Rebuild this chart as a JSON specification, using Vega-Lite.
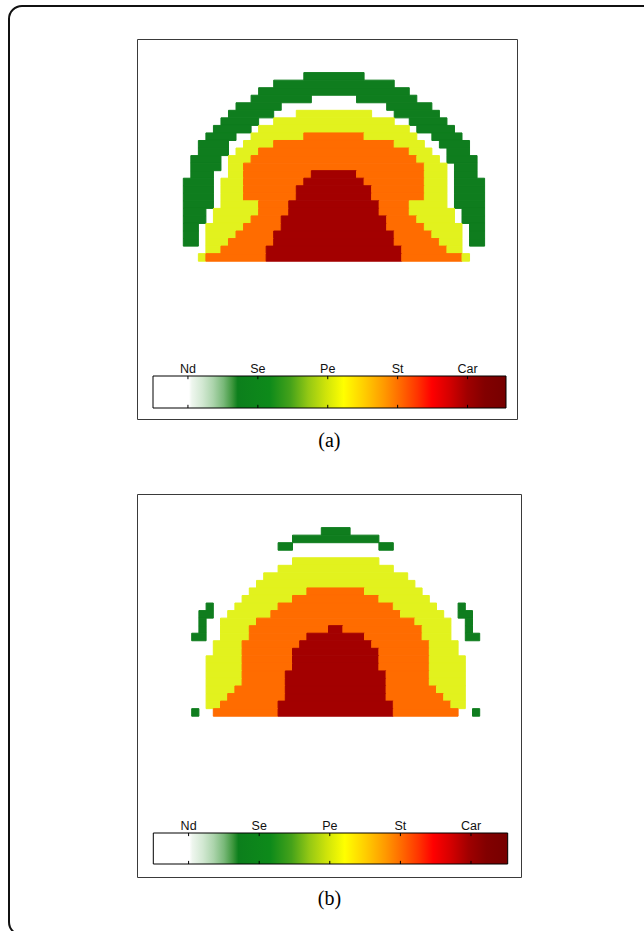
{
"$schema": "https://vega.github.io/schema/vega-lite/v6.json",
"width": 644, "height": 931, "padding": 0, "autosize": {"type": "none"},
"background": "white",
"config": {"view": {"stroke": null}},
"datasets": {
"one": [{"a": 0, "b": 1}],
"labs": [{"v":0,"lab":"Nd"},{"v":1,"lab":"Se"},{"v":2,"lab":"Pe"},{"v":3,"lab":"St"},{"v":4,"lab":"Car"}],
"ha": [
{"r":0,"c0":16,"c1":24,"k":"Se"},
{"r":1,"c0":12,"c1":28,"k":"Se"},
{"r":2,"c0":10,"c1":30,"k":"Se"},
{"r":3,"c0":9,"c1":17,"k":"Se"},{"r":3,"c0":23,"c1":31,"k":"Se"},
{"r":4,"c0":7,"c1":13,"k":"Se"},{"r":4,"c0":27,"c1":33,"k":"Se"},
{"r":5,"c0":6,"c1":12,"k":"Se"},{"r":5,"c0":15,"c1":25,"k":"Pe"},{"r":5,"c0":28,"c1":34,"k":"Se"},
{"r":6,"c0":5,"c1":10,"k":"Se"},{"r":6,"c0":12,"c1":28,"k":"Pe"},{"r":6,"c0":30,"c1":35,"k":"Se"},
{"r":7,"c0":4,"c1":9,"k":"Se"},{"r":7,"c0":10,"c1":30,"k":"Pe"},{"r":7,"c0":31,"c1":36,"k":"Se"},
{"r":8,"c0":3,"c1":7,"k":"Se"},{"r":8,"c0":9,"c1":16,"k":"Pe"},{"r":8,"c0":16,"c1":24,"k":"St"},{"r":8,"c0":24,"c1":31,"k":"Pe"},{"r":8,"c0":33,"c1":37,"k":"Se"},
{"r":9,"c0":2,"c1":6,"k":"Se"},{"r":9,"c0":8,"c1":12,"k":"Pe"},{"r":9,"c0":12,"c1":28,"k":"St"},{"r":9,"c0":28,"c1":32,"k":"Pe"},{"r":9,"c0":34,"c1":38,"k":"Se"},
{"r":10,"c0":2,"c1":6,"k":"Se"},{"r":10,"c0":7,"c1":10,"k":"Pe"},{"r":10,"c0":10,"c1":30,"k":"St"},{"r":10,"c0":30,"c1":33,"k":"Pe"},{"r":10,"c0":35,"c1":38,"k":"Se"},
{"r":11,"c0":1,"c1":5,"k":"Se"},{"r":11,"c0":6,"c1":9,"k":"Pe"},{"r":11,"c0":9,"c1":31,"k":"St"},{"r":11,"c0":31,"c1":34,"k":"Pe"},{"r":11,"c0":35,"c1":39,"k":"Se"},
{"r":12,"c0":1,"c1":5,"k":"Se"},{"r":12,"c0":6,"c1":8,"k":"Pe"},{"r":12,"c0":8,"c1":32,"k":"St"},{"r":12,"c0":32,"c1":35,"k":"Pe"},{"r":12,"c0":36,"c1":39,"k":"Se"},
{"r":13,"c0":1,"c1":4,"k":"Se"},{"r":13,"c0":6,"c1":8,"k":"Pe"},{"r":13,"c0":8,"c1":17,"k":"St"},{"r":13,"c0":17,"c1":23,"k":"Car"},{"r":13,"c0":23,"c1":32,"k":"St"},{"r":13,"c0":32,"c1":35,"k":"Pe"},{"r":13,"c0":36,"c1":39,"k":"Se"},
{"r":14,"c0":0,"c1":4,"k":"Se"},{"r":14,"c0":5,"c1":8,"k":"Pe"},{"r":14,"c0":8,"c1":16,"k":"St"},{"r":14,"c0":16,"c1":24,"k":"Car"},{"r":14,"c0":24,"c1":32,"k":"St"},{"r":14,"c0":32,"c1":35,"k":"Pe"},{"r":14,"c0":36,"c1":40,"k":"Se"},
{"r":15,"c0":0,"c1":4,"k":"Se"},{"r":15,"c0":5,"c1":8,"k":"Pe"},{"r":15,"c0":8,"c1":15,"k":"St"},{"r":15,"c0":15,"c1":25,"k":"Car"},{"r":15,"c0":25,"c1":32,"k":"St"},{"r":15,"c0":32,"c1":35,"k":"Pe"},{"r":15,"c0":36,"c1":40,"k":"Se"},
{"r":16,"c0":0,"c1":4,"k":"Se"},{"r":16,"c0":5,"c1":8,"k":"Pe"},{"r":16,"c0":8,"c1":15,"k":"St"},{"r":16,"c0":15,"c1":25,"k":"Car"},{"r":16,"c0":25,"c1":32,"k":"St"},{"r":16,"c0":32,"c1":35,"k":"Pe"},{"r":16,"c0":36,"c1":40,"k":"Se"},
{"r":17,"c0":0,"c1":4,"k":"Se"},{"r":17,"c0":5,"c1":10,"k":"Pe"},{"r":17,"c0":10,"c1":14,"k":"St"},{"r":17,"c0":14,"c1":26,"k":"Car"},{"r":17,"c0":26,"c1":30,"k":"St"},{"r":17,"c0":30,"c1":35,"k":"Pe"},{"r":17,"c0":36,"c1":40,"k":"Se"},
{"r":18,"c0":0,"c1":3,"k":"Se"},{"r":18,"c0":4,"c1":10,"k":"Pe"},{"r":18,"c0":10,"c1":14,"k":"St"},{"r":18,"c0":14,"c1":26,"k":"Car"},{"r":18,"c0":26,"c1":30,"k":"St"},{"r":18,"c0":30,"c1":36,"k":"Pe"},{"r":18,"c0":37,"c1":40,"k":"Se"},
{"r":19,"c0":0,"c1":3,"k":"Se"},{"r":19,"c0":4,"c1":9,"k":"Pe"},{"r":19,"c0":9,"c1":13,"k":"St"},{"r":19,"c0":13,"c1":27,"k":"Car"},{"r":19,"c0":27,"c1":31,"k":"St"},{"r":19,"c0":31,"c1":36,"k":"Pe"},{"r":19,"c0":37,"c1":40,"k":"Se"},
{"r":20,"c0":0,"c1":2,"k":"Se"},{"r":20,"c0":3,"c1":8,"k":"Pe"},{"r":20,"c0":8,"c1":13,"k":"St"},{"r":20,"c0":13,"c1":27,"k":"Car"},{"r":20,"c0":27,"c1":32,"k":"St"},{"r":20,"c0":32,"c1":37,"k":"Pe"},{"r":20,"c0":38,"c1":40,"k":"Se"},
{"r":21,"c0":0,"c1":2,"k":"Se"},{"r":21,"c0":3,"c1":7,"k":"Pe"},{"r":21,"c0":7,"c1":12,"k":"St"},{"r":21,"c0":12,"c1":28,"k":"Car"},{"r":21,"c0":28,"c1":33,"k":"St"},{"r":21,"c0":33,"c1":37,"k":"Pe"},{"r":21,"c0":38,"c1":40,"k":"Se"},
{"r":22,"c0":0,"c1":2,"k":"Se"},{"r":22,"c0":3,"c1":6,"k":"Pe"},{"r":22,"c0":6,"c1":12,"k":"St"},{"r":22,"c0":12,"c1":28,"k":"Car"},{"r":22,"c0":28,"c1":34,"k":"St"},{"r":22,"c0":34,"c1":37,"k":"Pe"},{"r":22,"c0":38,"c1":40,"k":"Se"},
{"r":23,"c0":3,"c1":5,"k":"Pe"},{"r":23,"c0":5,"c1":11,"k":"St"},{"r":23,"c0":11,"c1":29,"k":"Car"},{"r":23,"c0":29,"c1":35,"k":"St"},{"r":23,"c0":35,"c1":37,"k":"Pe"},
{"r":24,"c0":2,"c1":3,"k":"Pe"},{"r":24,"c0":3,"c1":11,"k":"St"},{"r":24,"c0":11,"c1":29,"k":"Car"},{"r":24,"c0":29,"c1":37,"k":"St"},{"r":24,"c0":37,"c1":38,"k":"Pe"}
],
"hb": [
{"r":0,"c0":18,"c1":22,"k":"Se"},
{"r":1,"c0":14,"c1":26,"k":"Se"},
{"r":2,"c0":12,"c1":14,"k":"Se"},{"r":2,"c0":26,"c1":28,"k":"Se"},
{"r":4,"c0":14,"c1":26,"k":"Pe"},
{"r":5,"c0":12,"c1":28,"k":"Pe"},
{"r":6,"c0":10,"c1":30,"k":"Pe"},
{"r":7,"c0":9,"c1":31,"k":"Pe"},
{"r":8,"c0":8,"c1":16,"k":"Pe"},{"r":8,"c0":16,"c1":24,"k":"St"},{"r":8,"c0":24,"c1":32,"k":"Pe"},
{"r":9,"c0":7,"c1":14,"k":"Pe"},{"r":9,"c0":14,"c1":26,"k":"St"},{"r":9,"c0":26,"c1":33,"k":"Pe"},
{"r":10,"c0":2,"c1":3,"k":"Se"},{"r":10,"c0":6,"c1":12,"k":"Pe"},{"r":10,"c0":12,"c1":28,"k":"St"},{"r":10,"c0":28,"c1":34,"k":"Pe"},{"r":10,"c0":37,"c1":38,"k":"Se"},
{"r":11,"c0":1,"c1":3,"k":"Se"},{"r":11,"c0":5,"c1":11,"k":"Pe"},{"r":11,"c0":11,"c1":29,"k":"St"},{"r":11,"c0":29,"c1":35,"k":"Pe"},{"r":11,"c0":37,"c1":39,"k":"Se"},
{"r":12,"c0":1,"c1":2,"k":"Se"},{"r":12,"c0":4,"c1":9,"k":"Pe"},{"r":12,"c0":9,"c1":31,"k":"St"},{"r":12,"c0":31,"c1":36,"k":"Pe"},{"r":12,"c0":38,"c1":39,"k":"Se"},
{"r":13,"c0":1,"c1":2,"k":"Se"},{"r":13,"c0":4,"c1":8,"k":"Pe"},{"r":13,"c0":8,"c1":19,"k":"St"},{"r":13,"c0":19,"c1":21,"k":"Car"},{"r":13,"c0":21,"c1":32,"k":"St"},{"r":13,"c0":32,"c1":36,"k":"Pe"},{"r":13,"c0":38,"c1":39,"k":"Se"},
{"r":14,"c0":0,"c1":2,"k":"Se"},{"r":14,"c0":4,"c1":8,"k":"Pe"},{"r":14,"c0":8,"c1":16,"k":"St"},{"r":14,"c0":16,"c1":24,"k":"Car"},{"r":14,"c0":24,"c1":32,"k":"St"},{"r":14,"c0":32,"c1":36,"k":"Pe"},{"r":14,"c0":38,"c1":40,"k":"Se"},
{"r":15,"c0":3,"c1":7,"k":"Pe"},{"r":15,"c0":7,"c1":15,"k":"St"},{"r":15,"c0":15,"c1":25,"k":"Car"},{"r":15,"c0":25,"c1":33,"k":"St"},{"r":15,"c0":33,"c1":37,"k":"Pe"},
{"r":16,"c0":3,"c1":7,"k":"Pe"},{"r":16,"c0":7,"c1":14,"k":"St"},{"r":16,"c0":14,"c1":26,"k":"Car"},{"r":16,"c0":26,"c1":33,"k":"St"},{"r":16,"c0":33,"c1":37,"k":"Pe"},
{"r":17,"c0":2,"c1":7,"k":"Pe"},{"r":17,"c0":7,"c1":14,"k":"St"},{"r":17,"c0":14,"c1":26,"k":"Car"},{"r":17,"c0":26,"c1":33,"k":"St"},{"r":17,"c0":33,"c1":38,"k":"Pe"},
{"r":18,"c0":2,"c1":7,"k":"Pe"},{"r":18,"c0":7,"c1":14,"k":"St"},{"r":18,"c0":14,"c1":26,"k":"Car"},{"r":18,"c0":26,"c1":33,"k":"St"},{"r":18,"c0":33,"c1":38,"k":"Pe"},
{"r":19,"c0":2,"c1":7,"k":"Pe"},{"r":19,"c0":7,"c1":13,"k":"St"},{"r":19,"c0":13,"c1":27,"k":"Car"},{"r":19,"c0":27,"c1":33,"k":"St"},{"r":19,"c0":33,"c1":38,"k":"Pe"},
{"r":20,"c0":2,"c1":7,"k":"Pe"},{"r":20,"c0":7,"c1":13,"k":"St"},{"r":20,"c0":13,"c1":27,"k":"Car"},{"r":20,"c0":27,"c1":33,"k":"St"},{"r":20,"c0":33,"c1":38,"k":"Pe"},
{"r":21,"c0":2,"c1":6,"k":"Pe"},{"r":21,"c0":6,"c1":13,"k":"St"},{"r":21,"c0":13,"c1":27,"k":"Car"},{"r":21,"c0":27,"c1":34,"k":"St"},{"r":21,"c0":34,"c1":38,"k":"Pe"},
{"r":22,"c0":2,"c1":5,"k":"Pe"},{"r":22,"c0":5,"c1":13,"k":"St"},{"r":22,"c0":13,"c1":27,"k":"Car"},{"r":22,"c0":27,"c1":35,"k":"St"},{"r":22,"c0":35,"c1":38,"k":"Pe"},
{"r":23,"c0":2,"c1":4,"k":"Pe"},{"r":23,"c0":4,"c1":12,"k":"St"},{"r":23,"c0":12,"c1":28,"k":"Car"},{"r":23,"c0":28,"c1":36,"k":"St"},{"r":23,"c0":36,"c1":38,"k":"Pe"},
{"r":24,"c0":0,"c1":1,"k":"Se"},{"r":24,"c0":3,"c1":12,"k":"St"},{"r":24,"c0":12,"c1":28,"k":"Car"},{"r":24,"c0":28,"c1":37,"k":"St"},{"r":24,"c0":39,"c1":40,"k":"Se"}
]
},
"resolve": {"scale": {"x": "independent", "y": "independent"}},
"layer": [
{
"data": {"name": "one"},
"mark": {"type": "rect", "fill": "transparent", "stroke": "#111111", "strokeWidth": 2, "cornerRadius": 13},
"encoding": {
"x": {"field": "a", "type": "quantitative", "scale": {"domain": [0, 1], "range": [9, 662], "nice": false, "zero": false}, "axis": null},
"x2": {"field": "b"},
"y": {"field": "a", "type": "quantitative", "scale": {"domain": [0, 1], "range": [6, 935], "nice": false, "zero": false}, "axis": null},
"y2": {"field": "b"}
}
},
{
"layer": [
{"data": {"name": "one"},
"mark": {"type": "rect", "fill": "transparent", "stroke": "#3a3a3a", "strokeWidth": 1},
"encoding": {
"x": {"field": "a", "type": "quantitative", "scale": {"domain": [0, 1], "range": [137.5, 517.5], "nice": false, "zero": false}, "axis": null},
"x2": {"field": "b"},
"y": {"field": "a", "type": "quantitative", "scale": {"domain": [0, 1], "range": [39.5, 419.5], "nice": false, "zero": false}, "axis": null},
"y2": {"field": "b"}}},
{"data": {"name": "one"},
"mark": {"type": "text", "text": "(a)", "font": "Liberation Serif", "fontSize": 20, "align": "center", "baseline": "alphabetic", "dy": 27, "color": "#000000"},
"encoding": {"x": {"datum": 0.505, "type": "quantitative"}, "y": {"datum": 1, "type": "quantitative"}}}
]
},
{
"layer": [
{"data": {"name": "one"},
"mark": {"type": "rect", "fill": "transparent", "stroke": "#3a3a3a", "strokeWidth": 1},
"encoding": {
"x": {"field": "a", "type": "quantitative", "scale": {"domain": [0, 1], "range": [137.5, 521.5], "nice": false, "zero": false}, "axis": null},
"x2": {"field": "b"},
"y": {"field": "a", "type": "quantitative", "scale": {"domain": [0, 1], "range": [494.5, 877.5], "nice": false, "zero": false}, "axis": null},
"y2": {"field": "b"}}},
{"data": {"name": "one"},
"mark": {"type": "text", "text": "(b)", "font": "Liberation Serif", "fontSize": 20, "align": "center", "baseline": "alphabetic", "dy": 27, "color": "#000000"},
"encoding": {"x": {"datum": 0.5, "type": "quantitative"}, "y": {"datum": 1, "type": "quantitative"}}}
]
},
{
"data": {"name": "ha"},
"mark": {"type": "rect", "strokeWidth": 1, "opacity": 1},
"encoding": {
"x": {"field": "c0", "type": "quantitative", "scale": {"domain": [0, 40], "range": [183.3, 484.6], "nice": false, "zero": false}, "axis": null},
"x2": {"field": "c1"},
"y": {"field": "r", "type": "ordinal", "scale": {"type": "band", "domain": [0,1,2,3,4,5,6,7,8,9,10,11,12,13,14,15,16,17,18,19,20,21,22,23,24], "range": [72.6, 261.2], "paddingInner": 0, "paddingOuter": 0, "round": false}, "axis": null},
"color": {"field": "k", "type": "nominal", "scale": {"domain": ["Se", "Pe", "St", "Car"], "range": ["#0f7d1e", "#e2f21e", "#ff6c00", "#a30000"]}, "legend": null},
"stroke": {"field": "k", "type": "nominal", "scale": {"domain": ["Se", "Pe", "St", "Car"], "range": ["#0f7d1e", "#e2f21e", "#ff6c00", "#a30000"]}, "legend": null}
}
},
{
"data": {"name": "hb"},
"mark": {"type": "rect", "strokeWidth": 1, "opacity": 1},
"encoding": {
"x": {"field": "c0", "type": "quantitative", "scale": {"domain": [0, 40], "range": [191.7, 479.7], "nice": false, "zero": false}, "axis": null},
"x2": {"field": "c1"},
"y": {"field": "r", "type": "ordinal", "scale": {"type": "band", "domain": [0,1,2,3,4,5,6,7,8,9,10,11,12,13,14,15,16,17,18,19,20,21,22,23,24], "range": [527.6, 716.2], "paddingInner": 0, "paddingOuter": 0, "round": false}, "axis": null},
"color": {"field": "k", "type": "nominal", "scale": {"domain": ["Se", "Pe", "St", "Car"], "range": ["#0f7d1e", "#e2f21e", "#ff6c00", "#a30000"]}, "legend": null},
"stroke": {"field": "k", "type": "nominal", "scale": {"domain": ["Se", "Pe", "St", "Car"], "range": ["#0f7d1e", "#e2f21e", "#ff6c00", "#a30000"]}, "legend": null}
}
},
{
"layer": [
{"data": {"name": "one"},
"mark": {"type": "rect", "stroke": "#000000", "strokeWidth": 1,
"fill": {"gradient": "linear", "x1": 0, "y1": 0, "x2": 1, "y2": 0, "stops": [
{"offset": 0, "color": "#ffffff"},{"offset": 0.102, "color": "#ffffff"},{"offset": 0.11, "color": "#eef6ee"},{"offset": 0.14, "color": "#d2e8d2"},{"offset": 0.17, "color": "#acd4ac"},{"offset": 0.2, "color": "#78b878"},{"offset": 0.225, "color": "#3c963c"},{"offset": 0.24, "color": "#0c7f1c"},{"offset": 0.33, "color": "#0d8a1a"},{"offset": 0.39, "color": "#45a21a"},{"offset": 0.44, "color": "#94c814"},{"offset": 0.49, "color": "#cfe40a"},{"offset": 0.54, "color": "#ffff00"},{"offset": 0.6, "color": "#ffcc00"},{"offset": 0.655, "color": "#ff9900"},{"offset": 0.7, "color": "#ff6a00"},{"offset": 0.75, "color": "#ff3300"},{"offset": 0.79, "color": "#ff0000"},{"offset": 0.84, "color": "#d40000"},{"offset": 0.89, "color": "#a00000"},{"offset": 0.94, "color": "#820000"},{"offset": 1, "color": "#760000"}]}},
"encoding": {
"x": {"datum": -0.5, "type": "quantitative", "scale": {"domain": [-0.5, 4.55], "range": [153, 506], "nice": false, "zero": false}, "axis": null},
"x2": {"datum": 4.55},
"y": {"datum": 0, "type": "quantitative", "scale": {"domain": [0, 1], "range": [376, 408], "nice": false, "zero": false}, "axis": null},
"y2": {"datum": 1}}},
{"data": {"name": "labs"}, "mark": {"type": "rule", "color": "#000000", "strokeWidth": 1},
"encoding": {"x": {"field": "v", "type": "quantitative"}, "y": {"datum": 0, "type": "quantitative"}, "y2": {"datum": 0.1}}},
{"data": {"name": "labs"}, "mark": {"type": "rule", "color": "#000000", "strokeWidth": 1},
"encoding": {"x": {"field": "v", "type": "quantitative"}, "y": {"datum": 0.9, "type": "quantitative"}, "y2": {"datum": 1}}},
{"data": {"name": "labs"}, "mark": {"type": "text", "font": "Liberation Sans", "fontSize": 12.5, "align": "center", "baseline": "alphabetic", "dy": -3, "color": "#111111"},
"encoding": {"x": {"field": "v", "type": "quantitative"}, "y": {"datum": 0, "type": "quantitative"}, "text": {"field": "lab"}}}
]
},
{
"layer": [
{"data": {"name": "one"},
"mark": {"type": "rect", "stroke": "#000000", "strokeWidth": 1,
"fill": {"gradient": "linear", "x1": 0, "y1": 0, "x2": 1, "y2": 0, "stops": [
{"offset": 0, "color": "#ffffff"},{"offset": 0.102, "color": "#ffffff"},{"offset": 0.11, "color": "#eef6ee"},{"offset": 0.14, "color": "#d2e8d2"},{"offset": 0.17, "color": "#acd4ac"},{"offset": 0.2, "color": "#78b878"},{"offset": 0.225, "color": "#3c963c"},{"offset": 0.24, "color": "#0c7f1c"},{"offset": 0.33, "color": "#0d8a1a"},{"offset": 0.39, "color": "#45a21a"},{"offset": 0.44, "color": "#94c814"},{"offset": 0.49, "color": "#cfe40a"},{"offset": 0.54, "color": "#ffff00"},{"offset": 0.6, "color": "#ffcc00"},{"offset": 0.655, "color": "#ff9900"},{"offset": 0.7, "color": "#ff6a00"},{"offset": 0.75, "color": "#ff3300"},{"offset": 0.79, "color": "#ff0000"},{"offset": 0.84, "color": "#d40000"},{"offset": 0.89, "color": "#a00000"},{"offset": 0.94, "color": "#820000"},{"offset": 1, "color": "#760000"}]}},
"encoding": {
"x": {"datum": -0.5, "type": "quantitative", "scale": {"domain": [-0.5, 4.52], "range": [153.3, 507.7], "nice": false, "zero": false}, "axis": null},
"x2": {"datum": 4.52},
"y": {"datum": 0, "type": "quantitative", "scale": {"domain": [0, 1], "range": [833, 864], "nice": false, "zero": false}, "axis": null},
"y2": {"datum": 1}}},
{"data": {"name": "labs"}, "mark": {"type": "rule", "color": "#000000", "strokeWidth": 1},
"encoding": {"x": {"field": "v", "type": "quantitative"}, "y": {"datum": 0, "type": "quantitative"}, "y2": {"datum": 0.1}}},
{"data": {"name": "labs"}, "mark": {"type": "rule", "color": "#000000", "strokeWidth": 1},
"encoding": {"x": {"field": "v", "type": "quantitative"}, "y": {"datum": 0.9, "type": "quantitative"}, "y2": {"datum": 1}}},
{"data": {"name": "labs"}, "mark": {"type": "text", "font": "Liberation Sans", "fontSize": 12.5, "align": "center", "baseline": "alphabetic", "dy": -3, "color": "#111111"},
"encoding": {"x": {"field": "v", "type": "quantitative"}, "y": {"datum": 0, "type": "quantitative"}, "text": {"field": "lab"}}}
]
}
]
}
